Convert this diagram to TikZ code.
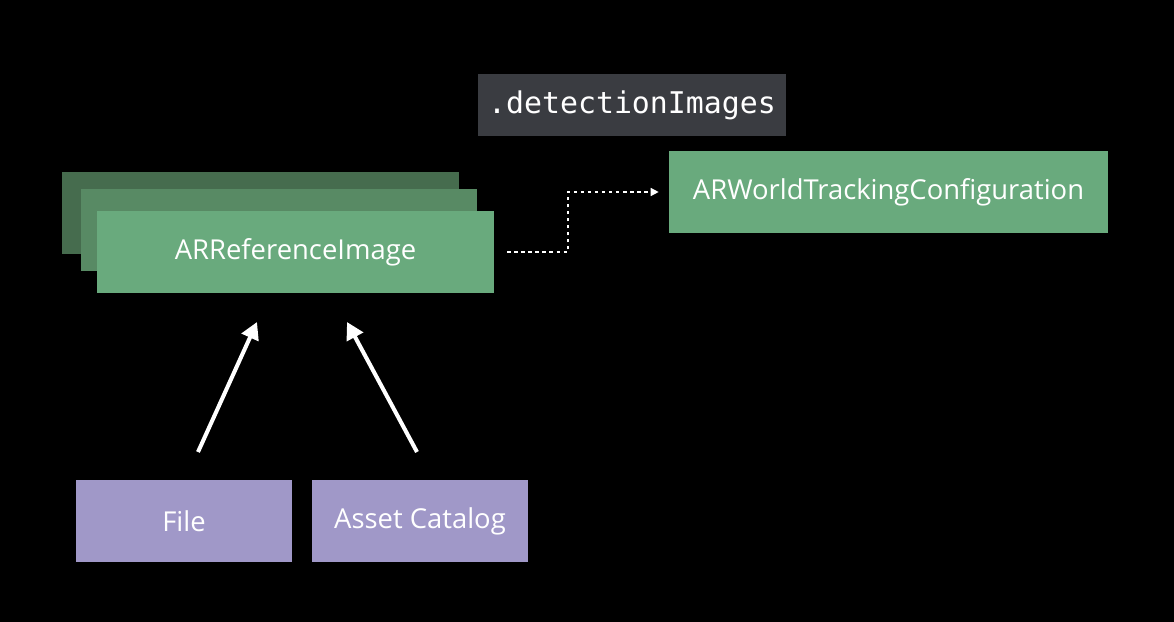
\documentclass[tikz,border=0pt]{standalone}
\usepackage{fontspec}
\setmainfont{Open Sans}
\setmonofont{DejaVu Sans Mono}
\usetikzlibrary{arrows.meta,positioning}

\definecolor{imggreen}{RGB}{105,170,125}
\definecolor{imgmid}{RGB}{88,138,100}
\definecolor{imgback}{RGB}{70,108,78}
\definecolor{srcpurple}{RGB}{160,152,200}
\definecolor{propgray}{RGB}{58,60,65}

\tikzset{
    box/.style={fill=imggreen, text=white, minimum width=7.94cm, minimum height=1.64cm,
        font=\fontsize{15.6}{18}\selectfont, inner sep=0pt},
    srcbox/.style={box, fill=srcpurple, minimum width=4.32cm},
    uparrow/.style={draw=white, line width=2.3pt, -{Triangle[length=0.34cm,width=0.36cm]}},
    dotarrow/.style={draw=white, line width=0.8pt, dash pattern=on 2pt off 2pt,
        -{Triangle[length=0.16cm,width=0.16cm]}}
}

\begin{document}
\begin{tikzpicture}[x=0.02cm, y=-0.02cm]
    \fill[black] (0,0) rectangle (1174,622);
    \useasboundingbox (0,0) rectangle (1174,622);

    % Stack of reference images
    \foreach \i/\x/\y/\c in {2/260.5/213/imgback, 1/279/230/imgmid} {
        \node[box, fill=\c] (img\i) at (\x,\y) {};
    }
    \node[box] (ref) at (295.5,252) {ARReferenceImage};

    % Configuration
    \node[box, minimum width=8.78cm] (cfg) at (888.5,192) {ARWorldTrackingConfiguration};
    \node[fill=propgray, text=white, minimum width=6.16cm, minimum height=1.24cm,
        font=\ttfamily\fontsize{17}{20}\selectfont] (prop) at (632,105) {.detectionImages};

    % Sources
    \node[srcbox] (file) at (184,521) {File};
    \node[srcbox] (asset) at (420,521) {Asset Catalog};

    % Arrows
    \coordinate (bend) at (568,192);
    \draw[dotarrow] ([xshift=0.26cm]ref.east) -| (bend) -- ([xshift=-0.2cm]cfg.west);

    \coordinate (fileout) at (198,452);
    \coordinate (filein) at (257,322);
    \coordinate (assetout) at (417,452);
    \coordinate (assetin) at (347,322);
    \draw[uparrow] (fileout) -- (filein);
    \draw[uparrow] (assetout) -- (assetin);
\end{tikzpicture}
\end{document}
